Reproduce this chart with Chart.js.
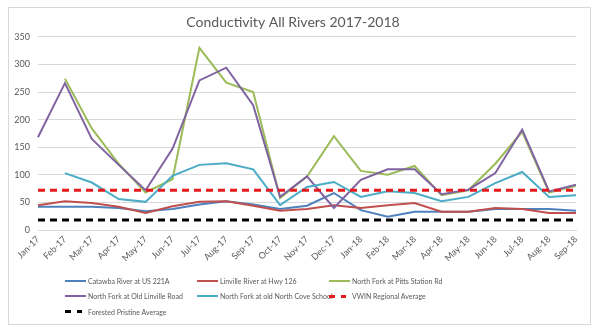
<!DOCTYPE html>
<html>
<head>
<meta charset="utf-8">
<script src="https://cdn.jsdelivr.net/npm/chart.js@4.4.0/dist/chart.umd.min.js"></script>
<style>
  body { margin: 0; background: #fff; }
  #frame { position: absolute; left: 8px; top: 7px; width: 581px; height: 316px; border: 1px solid #d9d9d9; }
  #chart { position: absolute; left: 0; top: 0; }
  #legend {
    position: absolute; left: 65px; top: 273px;
    display: grid; grid-template-columns: 132px 132px 132px; grid-auto-rows: 15.5px;
    font-family: Lato, sans-serif; font-size: 7px; color: #595959;
  }
  .item { display: flex; align-items: center; white-space: nowrap; }
  .swatch { width: 21px; height: 2px; margin-right: 2px; flex: none; }
</style>
</head>
<body>
<div id="frame"></div>
<canvas id="chart" width="600" height="334"></canvas>
<div id="legend"></div>
<script>
// monthly conductivity readings
const months = ["Jan-17", "Feb-17", "Mar-17", "Apr-17", "May-17", "Jun-17", "Jul-17", "Aug-17", "Sep-17",
  "Oct-17", "Nov-17", "Dec-17", "Jan-18", "Feb-18", "Mar-18", "Apr-18", "May-18", "Jun-18", "Jul-18", "Aug-18", "Sep-18"];

const catawba = [42, 42, 42, 40, 34, 38, 46, 52, 46, 38, 44, 67, 36, 24, 33, 33, 33, 38, 38, 38, 35];
const linville = [45, 52, 49, 42, 31, 43, 51, 52, 44, 35, 38, 45, 40, 45, 49, 33, 33, 40, 38, 31, 31];
const pittsStation = [null, 274, 184, 120, 68, 92, 330, 267, 250, 58, 97, 170, 107, 100, 116, 63, 72, 120, 178, 68, 80];
const oldLinville = [168, 266, 165, 118, 72, 147, 271, 294, 226, 60, 97, 40, 91, 110, 110, 65, 73, 103, 182, 70, 82];
const northCove = [null, 103, 86, 56, 51, 98, 118, 121, 110, 45, 78, 87, 60, 70, 67, 52, 60, 85, 105, 60, 63];
const vwinAverage = [72, 72, 72, 72, 72, 72, 72, 72, 72, 72, 72, 72, 72, 72, 72, 72, 72, 72, 72, 72, 72];
const pristineAverage = [18, 18, 18, 18, 18, 18, 18, 18, 18, 18, 18, 18, 18, 18, 18, 18, 18, 18, 18, 18, 18];

const yTicks = { min: 0, max: 350, step: 50 };

const grey = "#595959";
const tickFont = { family: "Lato", size: 9 };

function series(label, data, color, dashed) {
  return {
    label: label,
    data: data,
    borderColor: color,
    backgroundColor: color,
    borderWidth: dashed ? 3 : 2,
    borderDash: dashed ? [7, 5] : [],
    pointRadius: 0,
    tension: 0,
    fill: false,
    spanGaps: false
  };
}

const datasets = [
  series("Catawba River at US 221A", catawba, "#4f81bd"),
  series("Linville River at Hwy 126", linville, "#c0504d"),
  series("North Fork at Pitts Station Rd", pittsStation, "#9bbb59"),
  series("North Fork at Old Linville Road", oldLinville, "#8064a2"),
  series("North Fork at old North Cove School", northCove, "#4bacc6"),
  series("VWIN Regional Average", vwinAverage, "#e41a1c", true),
  series("Forested Pristine Average", pristineAverage, "#000000", true)
];
// later series paint over earlier ones
datasets.forEach((d, i) => { d.order = datasets.length - i; });

const chart = new Chart(document.getElementById("chart"), {
  type: "line",
  data: { labels: months, datasets: datasets },
  options: {
    responsive: false,
    animation: false,
    layout: { padding: { left: 10, right: 24, top: 0, bottom: 64 } },
    plugins: {
      legend: { display: false },
      tooltip: { enabled: false },
      title: {
        display: true,
        text: "Conductivity All Rivers 2017-2018",
        color: grey,
        font: { family: "Lato", size: 14, weight: "normal" },
        padding: { top: 14, bottom: 6 }
      }
    },
    scales: {
      x: {
        grid: { display: false, drawTicks: false },
        border: { color: "#d9d9d9" },
        ticks: { autoSkip: false, maxRotation: 45, minRotation: 45, color: grey, font: tickFont, padding: 4 },
        afterFit: (s) => { s.height = 40; }
      },
      y: {
        min: yTicks.min,
        max: yTicks.max,
        grid: { color: "#d9d9d9", drawTicks: false },
        border: { display: false },
        ticks: { stepSize: yTicks.step, color: grey, font: tickFont, padding: 8 },
        afterFit: (s) => { s.width = 28; }
      }
    }
  }
});

// legend laid out as a three-column grid
const legend = document.getElementById("legend");
chart.data.datasets.forEach((d) => {
  const item = document.createElement("div");
  item.className = "item";
  const sw = document.createElement("span");
  sw.className = "swatch";
  if (d.borderDash.length) {
    sw.style.height = "3px";
    sw.style.background = `linear-gradient(to right, ${d.borderColor} 0 6px, transparent 6px 12px, ${d.borderColor} 12px 17px, transparent 17px)`;
  } else {
    sw.style.background = d.borderColor;
  }
  item.appendChild(sw);
  item.appendChild(document.createTextNode(d.label));
  legend.appendChild(item);
});
</script>
</body>
</html>
